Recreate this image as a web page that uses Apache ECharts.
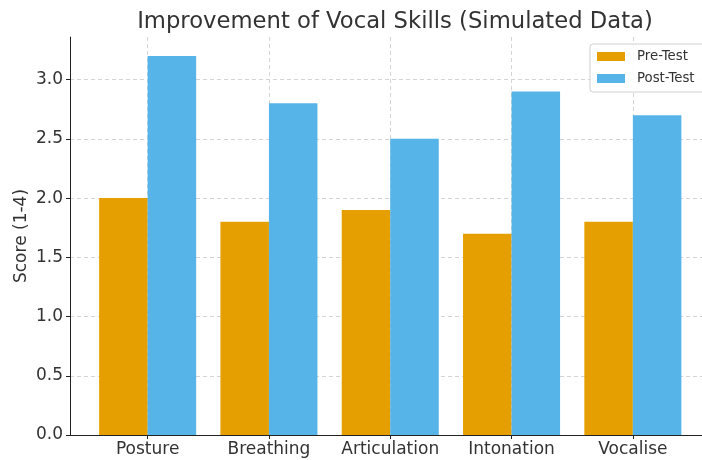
<!DOCTYPE html>
<html>
<head>
<meta charset="utf-8">
<script src="https://cdn.jsdelivr.net/npm/echarts@6/dist/echarts.min.js"></script>
<style>
html,body{margin:0;padding:0;background:#fff;}
#chart{width:702px;height:460px;}
</style>
</head>
<body>
<div id="chart"></div>
<script>
const categories = ['Posture', 'Breathing', 'Articulation', 'Intonation', 'Vocalise'];
const preTest = [2.0, 1.8, 1.9, 1.7, 1.8];
const postTest = [3.2, 2.8, 2.5, 2.9, 2.7];
const yTicks = [0, 0.5, 1.0, 1.5, 2.0, 2.5, 3.0];
const xPositions = categories.map((c, i) => i);

const FONT = 'DejaVu Sans';
const TXT = '#333333';

const chart = echarts.init(document.getElementById('chart'), null, {renderer: 'canvas'});
chart.setOption({
  animation: false,
  backgroundColor: '#ffffff',
  textStyle: {fontFamily: FONT},
  title: {
    text: 'Improvement of Vocal Skills (Simulated Data)',
    left: 390, top: 6,
    textAlign: 'center',
    textStyle: {fontFamily: FONT, fontSize: 22.7, fontWeight: 'normal', color: TXT}
  },
  legend: {
    orient: 'vertical',
    left: 590, top: 44,
    padding: [5, 20, 6, 7],
    itemWidth: 28, itemHeight: 9, itemGap: 7,
    borderColor: '#d0d0d0', borderWidth: 1, borderRadius: 3,
    backgroundColor: 'rgba(255,255,255,0.9)',
    icon: 'rect',
    textStyle: {fontFamily: FONT, fontSize: 13.3, color: TXT, lineHeight: 15, padding: [0, 0, 0, 7]},
    data: ['Pre-Test', 'Post-Test']
  },
  grid: {left: 70, right: 0, top: 37, bottom: 25, containLabel: false},
  xAxis: {
    type: 'value',
    min: -0.64, max: 4.57,
    axisLine: {show: true, onZero: false, lineStyle: {color: '#222', width: 1}},
    axisTick: {show: true, length: 4, lineStyle: {color: '#222'}, customValues: xPositions},
    axisLabel: {
      customValues: xPositions,
      formatter: v => categories[Math.round(v)] || '',
      fontFamily: FONT, fontSize: 17, color: TXT, margin: 6
    },
    splitLine: {show: true, customValues: xPositions, lineStyle: {color: '#d4d4d4', type: [4, 3], width: 1}}
  },
  yAxis: {
    type: 'value',
    min: 0, max: 3.36,
    name: 'Score (1-4)',
    nameLocation: 'middle',
    nameGap: 40,
    nameMoveOverlap: false,
    nameTextStyle: {fontFamily: FONT, fontSize: 17, color: TXT},
    axisLine: {show: true, onZero: false, lineStyle: {color: '#222', width: 1}},
    axisTick: {show: true, length: 4, lineStyle: {color: '#222'}, customValues: yTicks},
    axisLabel: {
      customValues: yTicks,
      formatter: v => v.toFixed(1),
      fontFamily: FONT, fontSize: 17, color: TXT, margin: 7
    },
    splitLine: {show: true, customValues: yTicks, lineStyle: {color: '#d4d4d4', type: [4, 3], width: 1}}
  },
  series: [
    {
      name: 'Pre-Test', type: 'bar',
      data: preTest.map((v, i) => [xPositions[i], v]),
      barWidth: '40%', barGap: '0%',
      itemStyle: {color: '#E69F00'}
    },
    {
      name: 'Post-Test', type: 'bar',
      data: postTest.map((v, i) => [xPositions[i], v]),
      barWidth: '40%', barGap: '0%',
      itemStyle: {color: '#56B4E9'}
    }
  ]
});
</script>
</body>
</html>
